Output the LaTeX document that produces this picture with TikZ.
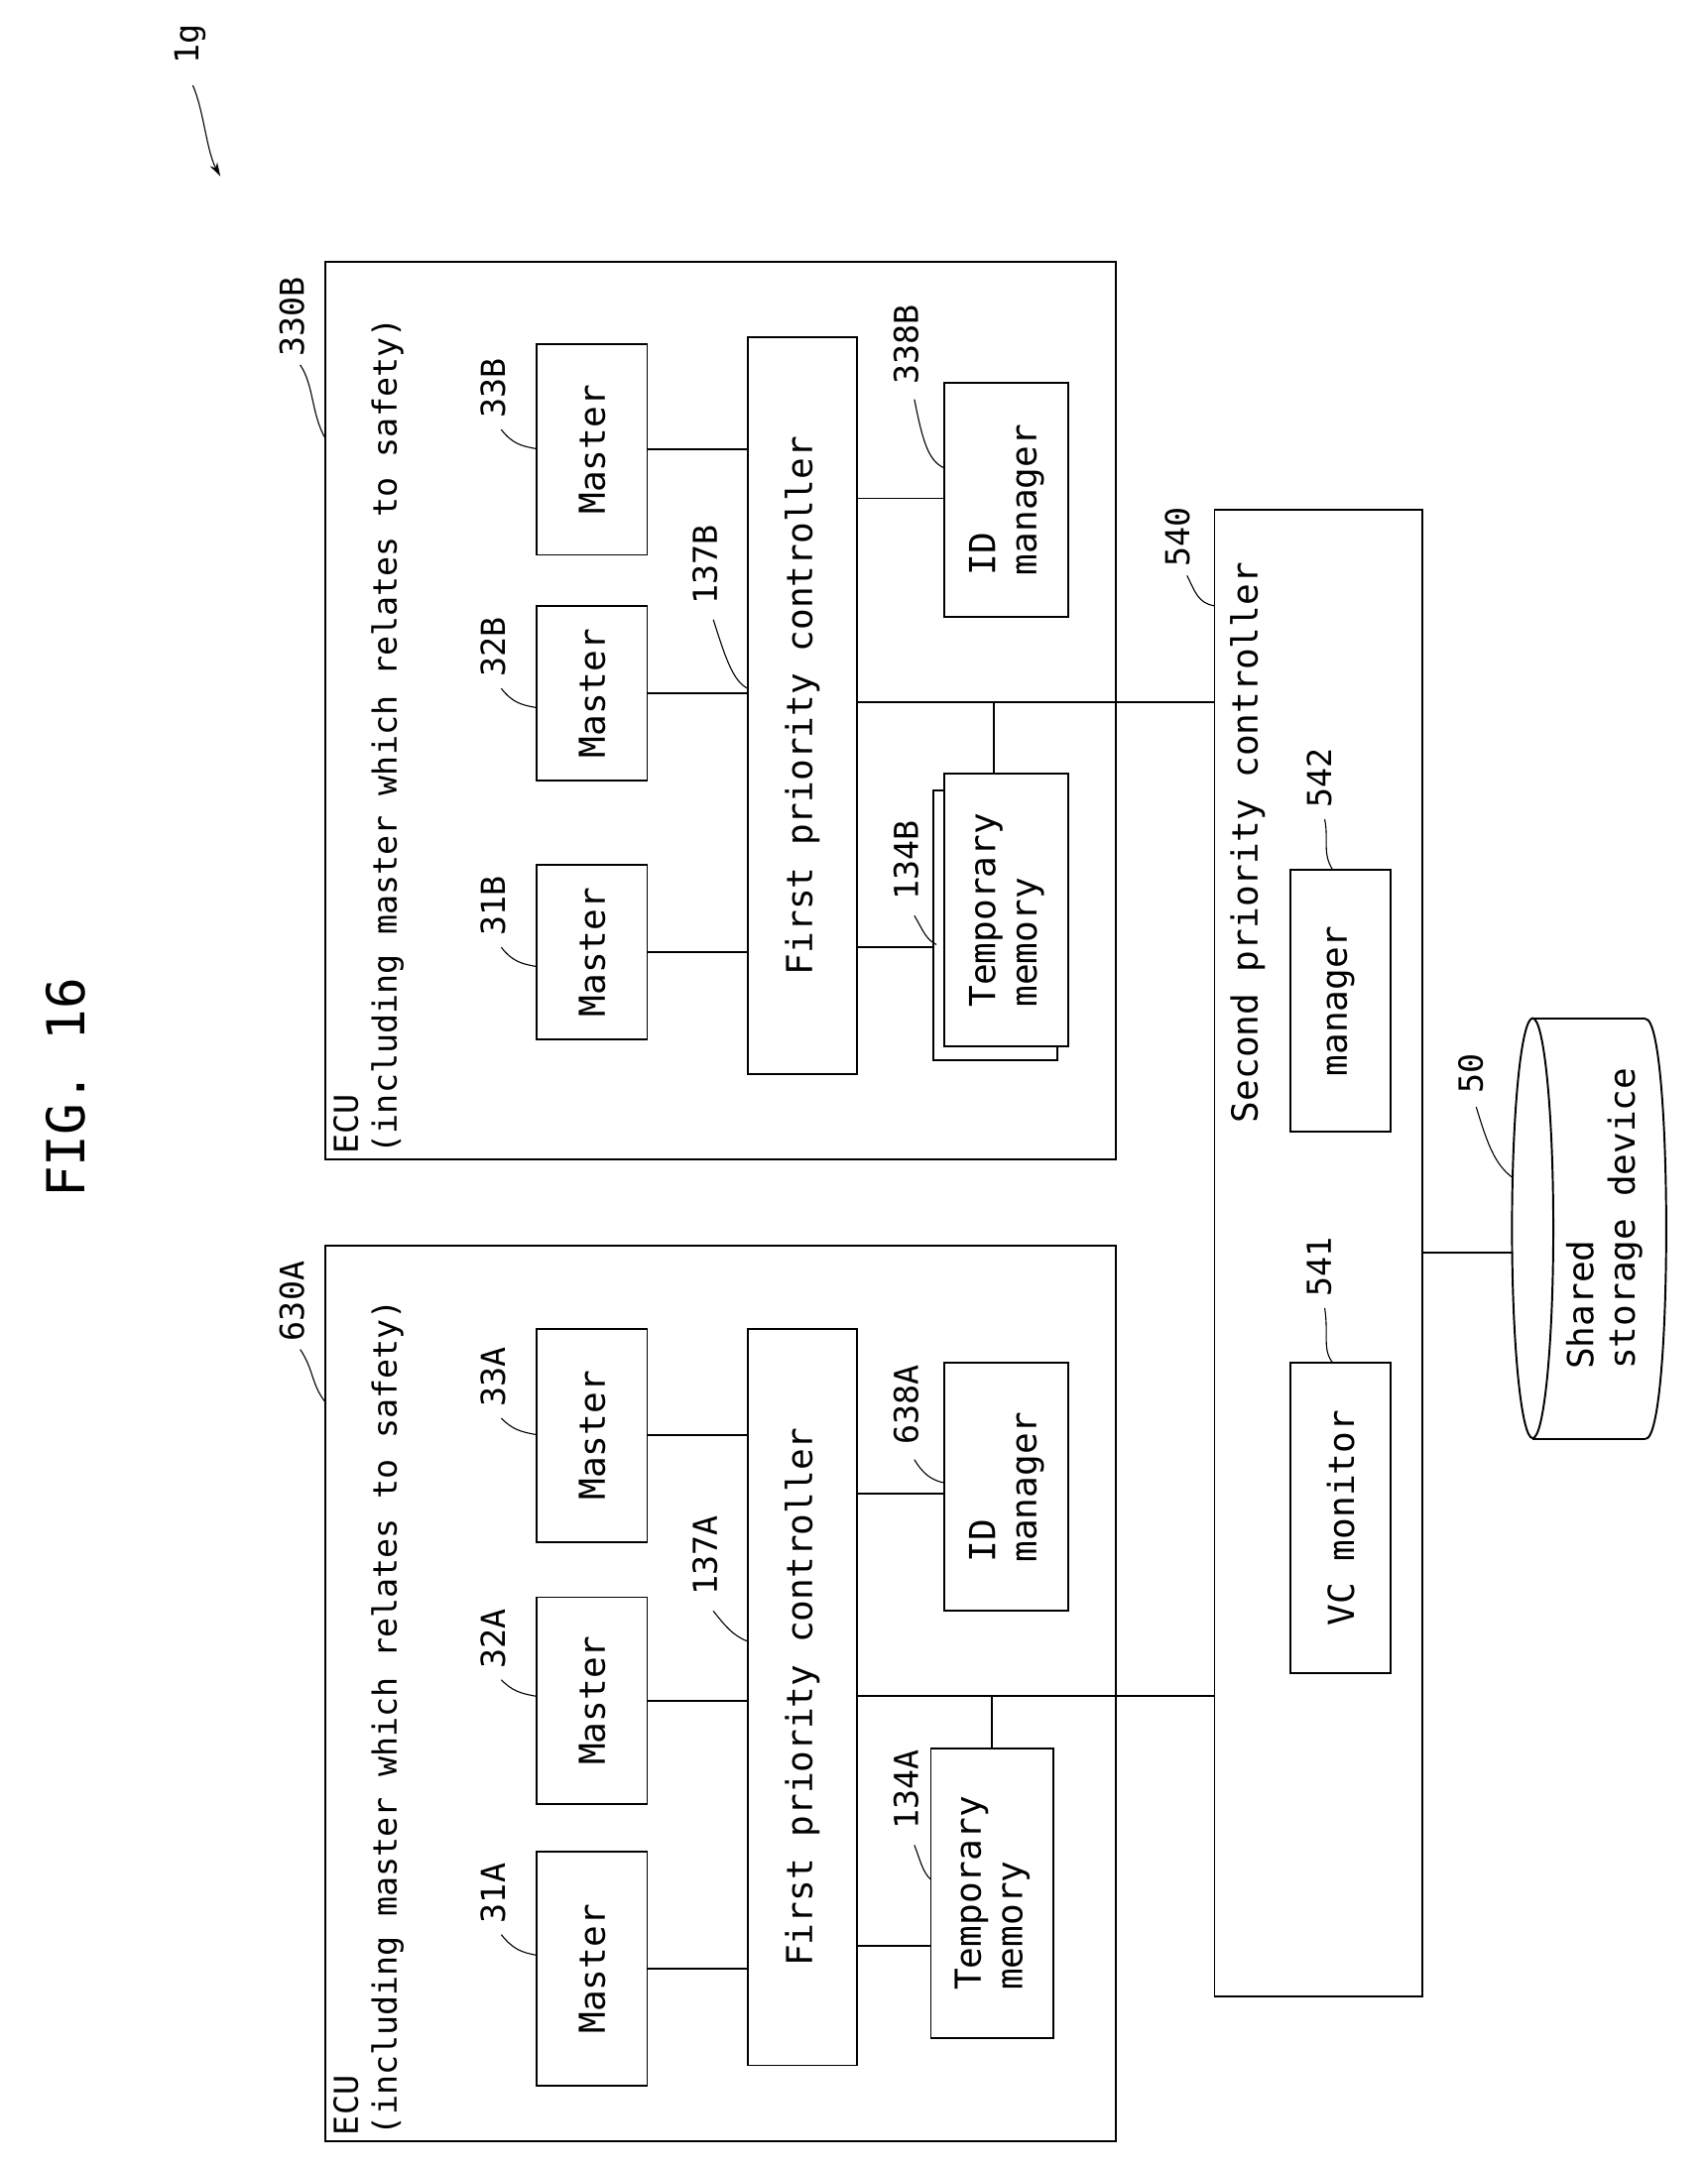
\documentclass[tikz,border=0pt]{standalone}
\usepackage{fontspec}
\setmainfont{DejaVu Sans Mono}
\usetikzlibrary{fit,arrows.meta}
\begin{document}
\begin{tikzpicture}[x=1pt,y=-1pt,
  bx/.style={draw,line width=1.4pt,inner sep=0pt},
  tx/.style={rotate=90,font=\fontsize{26}{30}\selectfont,inner sep=0pt},
  lb/.style={rotate=90,font=\fontsize{24}{28}\selectfont,inner sep=0pt},
  ld/.style={line width=0.8pt},
  ln/.style={line width=1.4pt}]
\useasboundingbox (0,0) rectangle (1240,1576);
\node[rotate=90,font=\fontsize{38}{42}\selectfont] (fig) at (48,790) {FIG. 16};
\node[lb] (l1g) at (138,32) {1g};
\coordinate (a1g) at (160,128);
\draw[ld,-{Stealth[length=10pt,width=6pt]}] (140,62) .. controls (148,80) and (150,110) .. (a1g);
% ECU B
\node[bx,fit={(236,190) (810,842)}] (ecuB) {};
\node[lb,anchor=north west,align=left] (ecuBt) at (242,838) {ECU\\(including master which relates to safety)};
\node[bx,fit={(390,628) (470,755)}] (m31B) {}; \node[tx] at (m31B) {Master};
\node[bx,fit={(390,440) (470,567)}] (m32B) {}; \node[tx] at (m32B) {Master};
\node[bx,fit={(390,250) (470,403)}] (m33B) {}; \node[tx] at (m33B) {Master};
\node[bx,fit={(543,245) (622,780)}] (fpcB) {}; \node[tx] at (fpcB) {First priority controller};
\node[bx,fit={(686,278) (776,448)}] (idB) {}; \node[tx,align=left] at (idB) {ID\\manager};
\node[bx,fit={(678,574) (768,770)}] (tmB2) {};
\node[bx,fill=white,fit={(686,562) (776,760)}] (tmB) {}; \node[tx,align=left] at (tmB) {Temporary\\memory};
% ECU A
\node[bx,fit={(236,905) (810,1555)}] (ecuA) {};
\node[lb,anchor=north west,align=left] (ecuAt) at (242,1551) {ECU\\(including master which relates to safety)};
\node[bx,fit={(390,1345) (470,1515)}] (m31A) {}; \node[tx] at (m31A) {Master};
\node[bx,fit={(390,1160) (470,1310)}] (m32A) {}; \node[tx] at (m32A) {Master};
\node[bx,fit={(390,965) (470,1120)}] (m33A) {}; \node[tx] at (m33A) {Master};
\node[bx,fit={(543,965) (622,1500)}] (fpcA) {}; \node[tx] at (fpcA) {First priority controller};
\node[bx,fit={(686,990) (776,1170)}] (idA) {}; \node[tx,align=left] at (idA) {ID\\manager};
\node[bx,fit={(676,1270) (765,1480)}] (tmA) {}; \node[tx,align=left] at (tmA) {Temporary\\memory};
% second controller
\node[bx,fit={(882,370) (1033,1450)}] (spc) {};
\node[tx] (spct) at (906,612) {Second priority controller};
\node[bx,fit={(937,632) (1010,822)}] (mgr) {}; \node[tx] at (mgr) {manager};
\node[bx,fit={(937,990) (1010,1215)}] (vcm) {}; \node[tx] at (vcm) {VC monitor};
% cylinder
\draw[ln] (1113,740) -- (1195,740) (1113,1045) -- (1195,1045);
\draw[ln] (1113,892) ellipse [x radius=15,y radius=152.5];
\draw[ln] (1195,740) .. controls (1215,740) and (1215,1045) .. (1195,1045);
\node[tx,align=left] (cylt) at (1165,885) {Shared\\storage device};
% connectors B
\draw[ln] (m31B.east) -- (m31B.east -| fpcB.west);
\draw[ln] (m32B.east) -- (m32B.east -| fpcB.west);
\draw[ln] (m33B.east) -- (m33B.east -| fpcB.west);
\coordinate (tB) at (622,688);
\draw[ln] (tB) -- (tB -| tmB2.west);
\coordinate (iB) at (622,362);
\draw[line width=0.8pt] (iB) -- (iB -| idB.west);
\coordinate (busB) at (722,510);
\draw[ln] (fpcB.east |- busB) -- (spc.west |- busB);
\draw[ln] (busB) -- (busB |- tmB.north);
% connectors A
\draw[ln] (m31A.east) -- (m31A.east -| fpcA.west);
\draw[ln] (m32A.east) -- (m32A.east -| fpcA.west);
\draw[ln] (m33A.east) -- (m33A.east -| fpcA.west);
\coordinate (tA) at (622,1413);
\draw[ln] (tA) -- (tA -| tmA.west);
\coordinate (iA) at (622,1085);
\draw[ln] (iA) -- (iA -| idA.west);
\coordinate (busA) at (720,1232);
\draw[ln] (fpcA.east |- busA) -- (spc.west |- busA);
\draw[ln] (busA) -- (busA |- tmA.north);
\coordinate (cylc) at (1098,910);
\draw[ln] (spc.east |- cylc) -- (cylc);
% labels
\node[lb] (l330B) at (212,230) {330B}; \draw[ld] (218,265) .. controls (228,280) and (226,300) .. (236,318);
\node[lb] (l630A) at (212,945) {630A}; \draw[ld] (218,980) .. controls (228,995) and (226,1005) .. (236,1018);
\node[lb] (l31B) at (358,658) {31B}; \draw[ld] (364,688) .. controls (372,698) and (378,700) .. (390,702);
\node[lb] (l32B) at (358,470) {32B}; \draw[ld] (364,500) .. controls (372,510) and (378,512) .. (390,514);
\node[lb] (l33B) at (358,282) {33B}; \draw[ld] (364,312) .. controls (372,322) and (378,324) .. (390,326);
\node[lb] (l137B) at (512,410) {137B}; \draw[ld] (518,450) .. controls (526,475) and (532,495) .. (543,500);
\node[lb] (l134B) at (658,625) {134B}; \draw[ld] (664,665) .. controls (670,675) and (672,682) .. (680,686);
\node[lb] (l338B) at (658,250) {338B}; \draw[ld] (664,290) .. controls (670,320) and (674,335) .. (686,340);
\node[lb] (l540) at (855,390) {540}; \draw[ld] (862,418) .. controls (868,430) and (870,438) .. (882,440);
\node[lb] (l542) at (958,565) {542}; \draw[ld] (962,595) .. controls (965,610) and (960,620) .. (968,632);
\node[lb] (l541) at (958,920) {541}; \draw[ld] (962,950) .. controls (965,970) and (960,980) .. (968,990);
\node[lb] (l50) at (1068,780) {50}; \draw[ld] (1072,804) .. controls (1080,830) and (1085,845) .. (1098,855);
\node[lb] (l31A) at (358,1375) {31A}; \draw[ld] (364,1405) .. controls (372,1415) and (378,1418) .. (390,1420);
\node[lb] (l32A) at (358,1190) {32A}; \draw[ld] (364,1220) .. controls (372,1228) and (378,1230) .. (390,1232);
\node[lb] (l33A) at (358,1000) {33A}; \draw[ld] (364,1030) .. controls (372,1038) and (378,1040) .. (390,1042);
\node[lb] (l137A) at (512,1130) {137A}; \draw[ld] (518,1170) .. controls (526,1180) and (532,1188) .. (543,1192);
\node[lb] (l134A) at (658,1300) {134A}; \draw[ld] (664,1340) .. controls (668,1350) and (670,1360) .. (676,1365);
\node[lb] (l638A) at (658,1020) {638A}; \draw[ld] (664,1060) .. controls (670,1070) and (676,1075) .. (686,1077);
\end{tikzpicture}
\end{document}
